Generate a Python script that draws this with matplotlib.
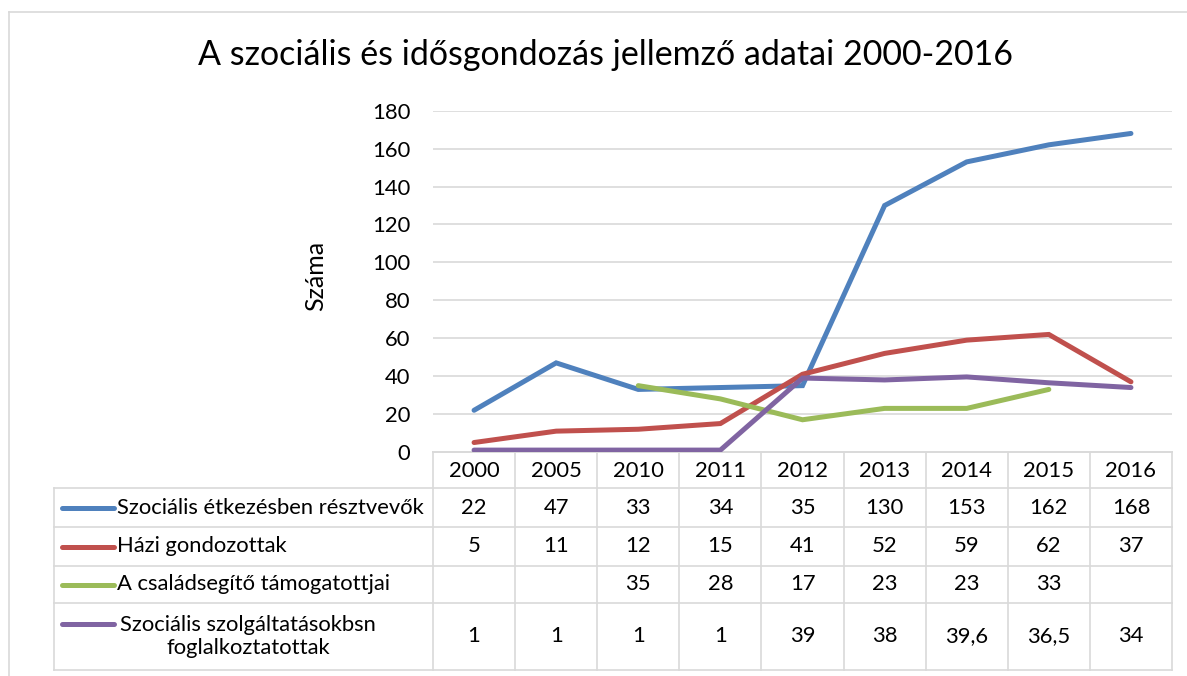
import matplotlib
matplotlib.use("Agg")
import matplotlib.pyplot as plt
import numpy as np

plt.rcParams['font.family'] = ['Lato', 'DejaVu Sans']

title = "A szociális és idősgondozás jellemző adatai 2000-2016"
ylabel = "Száma"
years = ["2000", "2005", "2010", "2011", "2012", "2013", "2014", "2015", "2016"]
series_names = ["Szociális étkezésben résztvevők", "Házi gondozottak",
                "A családsegítő támogatottjai",
                "Szociális szolgáltatásokbsn\nfoglalkoztatottak"]
etkezes = [22, 47, 33, 34, 35, 130, 153, 162, 168]
hazi = [5, 11, 12, 15, 41, 52, 59, 62, 37]
csalad = [None, None, 35, 28, 17, 23, 23, 33, None]
foglalk = [1, 1, 1, 1, 39, 38, 39.6, 36.5, 34]
series = [etkezes, hazi, csalad, foglalk]
colors = ["#4F81BD", "#C0504D", "#9BBB59", "#8064A2"]
yticks = [0, 20, 40, 60, 80, 100, 120, 140, 160, 180]

W, H = 1187, 676
fig = plt.figure(figsize=(W / 100, H / 100), dpi=100)
fig.patch.set_facecolor("white")

# layout in pixels
px_left, px_right, px_top, px_bot = 433, 1172, 110.7, 452
tab_left = 54
row_edges = [452, 488, 527, 566, 603, 670]
grid_c = "#D9D9D9"
txt_c = "#000000"
fs = 15.8

ax = fig.add_axes([px_left / W, 1 - px_bot / H, (px_right - px_left) / W, (px_bot - px_top) / H])
n = len(years)
x = np.arange(n)
for vals, c in zip(series, colors):
    y = np.array([np.nan if v is None else v for v in vals], dtype=float)
    ax.plot(x, y, color=c, lw=3.6, solid_capstyle="round", solid_joinstyle="miter", zorder=3)
ax.set_xlim(-0.5, n - 0.5)
ax.set_ylim(0, 180)
ax.set_yticks(yticks)
ax.set_yticklabels([str(t) for t in yticks], fontsize=fs, color=txt_c)
ax.tick_params(axis="y", length=0, pad=16.5)
ax.set_xticks([])
ax.grid(axis="y", color=grid_c, lw=1.2)
ax.set_axisbelow(True)
for s in ["top", "right", "left"]:
    ax.spines[s].set_visible(False)
ax.spines["bottom"].set_color(grid_c)
ax.spines["bottom"].set_linewidth(1.2)

# overlay axes in pixel coordinates
ov = fig.add_axes([0, 0, 1, 1], zorder=-1)
ov.set_xlim(0, W)
ov.set_ylim(H, 0)
ov.axis("off")

# border
ov.plot([9, 9], [12, H], color=grid_c, lw=1.2)
ov.plot([9, W], [12, 12], color=grid_c, lw=1.2)

ov.text(605, 55, title, fontsize=24.5, ha="center", va="center", color=txt_c)
ov.text(316, 276, ylabel, fontsize=18, rotation=90, ha="center", va="center", color=txt_c)

# data table
colw = (px_right - px_left) / n
col_edges = [px_left + i * colw for i in range(n + 1)]
lw_t = 1.2
ov.plot([px_left, px_right], [row_edges[0], row_edges[0]], color=grid_c, lw=lw_t)
for yy in row_edges[1:]:
    ov.plot([tab_left, px_right], [yy, yy], color=grid_c, lw=lw_t)
for xe in col_edges:
    ov.plot([xe, xe], [row_edges[0], row_edges[-1]], color=grid_c, lw=lw_t)
ov.plot([tab_left, tab_left], [row_edges[1], row_edges[-1]], color=grid_c, lw=lw_t)

for i, yr in enumerate(years):
    ov.text(col_edges[i] + colw / 2, (row_edges[0] + row_edges[1]) / 2 + 1, yr,
            ha="center", va="center", fontsize=fs, color=txt_c)

for r, (name, vals, c) in enumerate(zip(series_names, series, colors)):
    y0, y1 = row_edges[r + 1], row_edges[r + 2]
    yc = (y0 + y1) / 2
    if "\n" in name:
        ky = yc - 13
        ov.plot([62, 114], [ky, ky], color=c, lw=3.6, solid_capstyle="round")
        ov.text(248, yc, name, ha="center", va="center", fontsize=fs,
                color=txt_c, multialignment="center", linespacing=1.2)
    else:
        ov.plot([62, 114], [yc, yc], color=c, lw=3.6, solid_capstyle="round")
        ov.text(117, yc, name, ha="left", va="center", fontsize=fs, color=txt_c)
    for i, v in enumerate(vals):
        if v is None:
            continue
        s = ("%g" % v).replace(".", ",")
        ov.text(col_edges[i] + colw / 2, yc, s, ha="center", va="center",
                fontsize=fs, color=txt_c)

fig.savefig("out.png", dpi=100, facecolor="white")
